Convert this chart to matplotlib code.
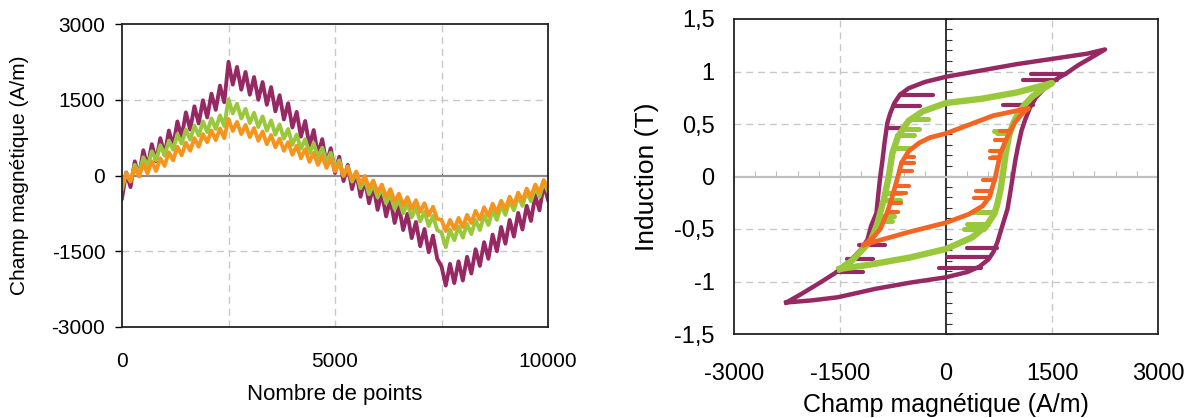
import numpy as np
import matplotlib
matplotlib.use("Agg")
import matplotlib.pyplot as plt
from matplotlib.ticker import FuncFormatter

plt.rcParams['font.family'] = ['Liberation Sans', 'DejaVu Sans']
plt.rcParams['axes.unicode_minus'] = False

# ---------- gauche : champ H (A/m) en fonction du numero de point ----------
nb_points = np.arange(0, 10001, 100)

h_violet = [-450, 60, -230, 280, -10, 500, 160, 620, 280, 740,
            400, 890, 580, 1070, 760, 1250, 910, 1370, 1030, 1490,
            1150, 1620, 1300, 1780, 1450, 2250, 1800, 2150, 1700, 2050,
            1600, 1950, 1500, 1850, 1400, 1750, 1270, 1590, 1110, 1430,
            950, 1260, 770, 1080, 590, 900, 410, 720, 230, 540,
            50, 370, -110, 210, -270, 50, -420, -80, -550, -210,
            -680, -340, -810, -470, -940, -600, -1080, -760, -1240, -920,
            -1400, -1060, -1520, -1190, -1650, -1800, -2180, -1750, -2130, -1700,
            -2080, -1610, -1940, -1460, -1790, -1320, -1650, -1170, -1500, -1020,
            -1350, -880, -1210, -740, -1070, -600, -900, -390, -690, -180,
            -480]

h_vert = [-270, 50, -110, 210, 40, 360, 180, 480, 300, 600,
          400, 690, 510, 820, 630, 910, 710, 990, 790, 1070,
          860, 1130, 920, 1190, 980, 1510, 1230, 1420, 1130, 1320,
          1040, 1240, 960, 1170, 890, 1090, 810, 1010, 730, 920,
          610, 810, 530, 720, 440, 640, 360, 550, 270, 450,
          130, 300, 0, 180, -120, 60, -250, -70, -370, -170,
          -430, -250, -550, -370, -660, -470, -750, -550, -830, -630,
          -910, -720, -1000, -800, -1080, -1130, -1420, -1070, -1280, -1010,
          -1230, -960, -1160, -880, -1080, -790, -980, -690, -880, -590,
          -780, -500, -690, -410, -600, -320, -510, -230, -420, -130,
          -320]

h_orange = [-200, 40, -120, 150, -20, 230, 40, 280, 90, 340,
            190, 460, 300, 570, 400, 650, 490, 740, 570, 820,
            660, 890, 700, 930, 740, 1120, 880, 1060, 820, 1000,
            760, 940, 690, 870, 620, 800, 560, 730, 490, 660,
            410, 590, 340, 520, 270, 450, 210, 390, 150, 330,
            80, 240, -10, 160, -80, 80, -170, -10, -250, -100,
            -340, -180, -430, -270, -520, -360, -590, -430, -660, -490,
            -720, -550, -790, -620, -860, -880, -1100, -880, -1060, -840,
            -1020, -780, -940, -700, -870, -630, -800, -560, -730, -500,
            -660, -420, -580, -340, -500, -260, -420, -180, -330, -90,
            -250]

# ---------- droite : cycles B(H) ----------
cycle_violet_h = [-2260, -1900, -1530, -1000, -500, 0, 300, 470, 600, 670, 730, 770, 820, 870,
                  910, 945, 980, 1020, 1070, 1120, 1190, 1270, 1420, 1570, 1720, 1870, 2050, 2250,
                  2000, 1500, 1000, 500, 0, -300, -530, -650, -730, -790, -830, -870, -900, -930,
                  -955, -985, -1060, -1110, -1210, -1380, -1570, -1780, -2050, -2260]
cycle_violet_b = [-1.20, -1.18, -1.15, -1.07, -1.01, -0.96, -0.91, -0.86, -0.79, -0.72, -0.62, -0.53, -0.42, -0.31,
                  -0.15, 0.0, 0.15, 0.29, 0.44, 0.54, 0.66, 0.75, 0.86, 0.93, 0.99, 1.06, 1.13, 1.21,
                  1.17, 1.12, 1.07, 1.01, 0.95, 0.90, 0.84, 0.78, 0.70, 0.60, 0.51, 0.32, 0.15, 0.0,
                  -0.15, -0.35, -0.47, -0.60, -0.70, -0.82, -0.92, -1.01, -1.12, -1.20]

cycle_vert_h = [-1500, -1080, -500, 0, 370, 570, 680, 720, 770, 800, 845, 900, 960, 1020, 1120, 1220, 1360, 1500,
                1000, 500, 0, -330, -530, -680, -760, -810, -880, -980, -1060, -1130, -1330, -1500]
cycle_vert_b = [-0.88, -0.84, -0.77, -0.69, -0.58, -0.47, -0.36, -0.28, -0.13, 0.0, 0.22, 0.41, 0.52, 0.60, 0.69, 0.76, 0.83, 0.89,
                0.80, 0.74, 0.70, 0.62, 0.53, 0.38, 0.22, 0.0, -0.22, -0.47, -0.60, -0.66, -0.80, -0.88]

cycle_orange_h = [-1160, -900, -530, 0, 320, 520, 620, 700, 770, 850, 970, 1080, 1170,
                  670, 0, -230, -380, -530, -630, -680, -760, -830, -930, -1030, -1160]
cycle_orange_b = [-0.65, -0.60, -0.53, -0.44, -0.36, -0.28, -0.19, 0.0, 0.22, 0.35, 0.51, 0.60, 0.65,
                  0.58, 0.41, 0.37, 0.32, 0.24, 0.13, 0.0, -0.19, -0.34, -0.50, -0.58, -0.65]

# petits cycles mineurs (traits horizontaux) : H debut, H fin, B
mineurs_violet_h0 = [-650, -750, -840, -1230, -1400, -1530, 720, 600, 500, 1570, 1700, 1230]
mineurs_violet_h1 = [-180, -370, -600, -870, -1030, -1170, 300, 20, -100, 1090, 1200, 810]
mineurs_violet_b = [0.78, 0.67, 0.46, -0.65, -0.79, -0.91, -0.68, -0.77, -0.87, 0.92, 0.98, 0.68]

mineurs_vert_h0 = [-620, -700, -740, -860, -880, -950, -960, -500, 900, 910, 840, 690, 590, 540]
mineurs_vert_h1 = [-380, -450, -530, -630, -650, -730, -760, -260, 720, 680, 650, 370, 300, 250]
mineurs_vert_b = [0.45, 0.40, 0.27, -0.16, -0.22, -0.38, -0.42, 0.55, 0.41, 0.43, 0.19, -0.34, -0.45, -0.50]

mineurs_orange_h0 = [-580, -630, -660, -720, -750, -790, -830, 775, 755, 690, 640, 615, 850, 910]
mineurs_orange_h1 = [-450, -450, -480, -520, -560, -640, -680, 620, 620, 520, 420, 400, 700, 760]
mineurs_orange_b = [0.19, 0.13, 0.05, -0.09, -0.16, -0.25, -0.34, 0.24, 0.18, -0.03, -0.14, -0.20, 0.35, 0.43]

violet = '#962864'
vert = '#99c83c'
orange_g = '#f7941d'
orange_d = '#f26522'
grille = '#c8c8c8'
tirets = (0, (5, 3.5))

W, H = 1192, 418
fig = plt.figure(figsize=(W / 100, H / 100), dpi=100)
fig.patch.set_facecolor('white')

# ================= graphique de gauche =================
rect1 = [122 / W, 1 - 327 / H, 426 / W, 303 / H]
fond1 = fig.add_axes(rect1)
ax1 = fig.add_axes(rect1)
for a in (fond1, ax1):
    a.set_xlim(0, 10000)
    a.set_ylim(-3000, 3000)
fond1.set_zorder(0)
ax1.set_zorder(1)
ax1.patch.set_visible(False)

# axe horizontal a H = 0
for s in ('top', 'right', 'left'):
    fond1.spines[s].set_visible(False)
fond1.spines['bottom'].set_position(('data', 0))
fond1.spines['bottom'].set_color('#8a8a8a')
fond1.spines['bottom'].set_linewidth(1.6)
fond1.set_xticks([2500, 5000, 7500])
fond1.set_yticks([])
fond1.tick_params(axis='x', direction='in', length=4, color='#555555', labelbottom=False)

ax1.plot(nb_points, h_violet, color=violet, lw=2.8)
ax1.plot(nb_points, h_vert, color=vert, lw=2.8)
ax1.plot(nb_points, h_orange, color=orange_g, lw=2.8)

ax1.xaxis.remove_overlapping_locs = False
ax1.yaxis.remove_overlapping_locs = False
ax1.set_xticks([0, 5000, 10000])
ax1.set_yticks([-3000, -1500, 0, 1500, 3000])
ax1.set_xticks([2500, 5000, 7500], minor=True)
ax1.set_yticks([-1500, 1500], minor=True)
ax1.grid(which='minor', color=grille, ls=tirets, lw=1)
ax1.tick_params(which='minor', length=0)
ax1.tick_params(axis='x', which='major', length=0, pad=18, labelsize=15)
ax1.tick_params(axis='y', which='major', length=5, width=1, pad=7, labelsize=15)
for s in ax1.spines.values():
    s.set_linewidth(1.3)
    s.set_color('#222222')
ax1.set_xlabel('Nombre de points', fontsize=16)
ax1.set_ylabel('Champ magnétique (A/m)', fontsize=15)
ax1.xaxis.set_label_coords(0.5, -0.224)
ax1.xaxis.label.set_va('center')
ax1.yaxis.set_label_coords(-0.240, 0.5)
ax1.yaxis.label.set_va('center')

# ================= graphique de droite =================
rect2 = [734 / W, 1 - 334 / H, 424 / W, 315 / H]
fond2 = fig.add_axes(rect2)
ax2 = fig.add_axes(rect2)
for a in (fond2, ax2):
    a.set_xlim(-3000, 3000)
    a.set_ylim(-1.5, 1.5)
fond2.set_zorder(0)
ax2.set_zorder(1)
ax2.patch.set_visible(False)

# axes passant par l'origine avec graduations secondaires
for s in ('top', 'right'):
    fond2.spines[s].set_visible(False)
fond2.spines['left'].set_position(('data', 0))
fond2.spines['bottom'].set_position(('data', 0))
fond2.spines['left'].set_color('#111111')
fond2.spines['left'].set_linewidth(1.2)
fond2.spines['bottom'].set_color('#c0c0c0')
fond2.spines['bottom'].set_linewidth(1.6)
fond2.set_xticks(np.arange(-3000, 3001, 300))
fond2.set_yticks(np.arange(-1.5, 1.51, 0.1))
fond2.tick_params(axis='x', direction='in', length=4, color='#bbbbbb', labelbottom=False)
fond2.tick_params(axis='y', direction='in', length=4, color='#333333', labelleft=False)

ax2.plot(cycle_violet_h, cycle_violet_b, color=violet, lw=3.2, solid_joinstyle='round')
for h0, h1, b in zip(mineurs_violet_h0, mineurs_violet_h1, mineurs_violet_b):
    ax2.plot([h0, h1], [b, b], color=violet, lw=3.0, solid_capstyle='round')
ax2.plot(cycle_vert_h, cycle_vert_b, color=vert, lw=4.6, solid_joinstyle='round')
for h0, h1, b in zip(mineurs_vert_h0, mineurs_vert_h1, mineurs_vert_b):
    ax2.plot([h0, h1], [b, b], color=vert, lw=3.6, solid_capstyle='round')
ax2.plot(cycle_orange_h, cycle_orange_b, color=orange_d, lw=3.4, solid_joinstyle='round')
for h0, h1, b in zip(mineurs_orange_h0, mineurs_orange_h1, mineurs_orange_b):
    ax2.plot([h0, h1], [b, b], color=orange_d, lw=3.0, solid_capstyle='round')

ax2.xaxis.remove_overlapping_locs = False
ax2.yaxis.remove_overlapping_locs = False
ax2.set_xticks([-3000, -1500, 0, 1500, 3000])
ax2.set_yticks([-1.5, -1, -0.5, 0, 0.5, 1, 1.5])
ax2.set_xticks([-1500, 1500], minor=True)
ax2.set_yticks([-1, -0.5, 0.5, 1], minor=True)
ax2.grid(which='minor', color=grille, ls=tirets, lw=1)
ax2.tick_params(which='minor', length=0)
ax2.tick_params(axis='x', which='major', length=0, pad=21, labelsize=17)
ax2.tick_params(axis='y', which='major', length=0, pad=14, labelsize=17)
ax2.yaxis.set_major_formatter(FuncFormatter(lambda v, p: ('%g' % v).replace('.', ',')))
for s in ax2.spines.values():
    s.set_linewidth(1.3)
    s.set_color('#222222')
ax2.set_xlabel('Champ magnétique (A/m)', fontsize=18)
ax2.set_ylabel('Induction (T)', fontsize=19)
ax2.xaxis.set_label_coords(0.5, -0.225)
ax2.xaxis.label.set_va('center')
ax2.yaxis.set_label_coords(-0.205, 0.5)
ax2.yaxis.label.set_va('center')

fig.savefig('out.png', dpi=100)
